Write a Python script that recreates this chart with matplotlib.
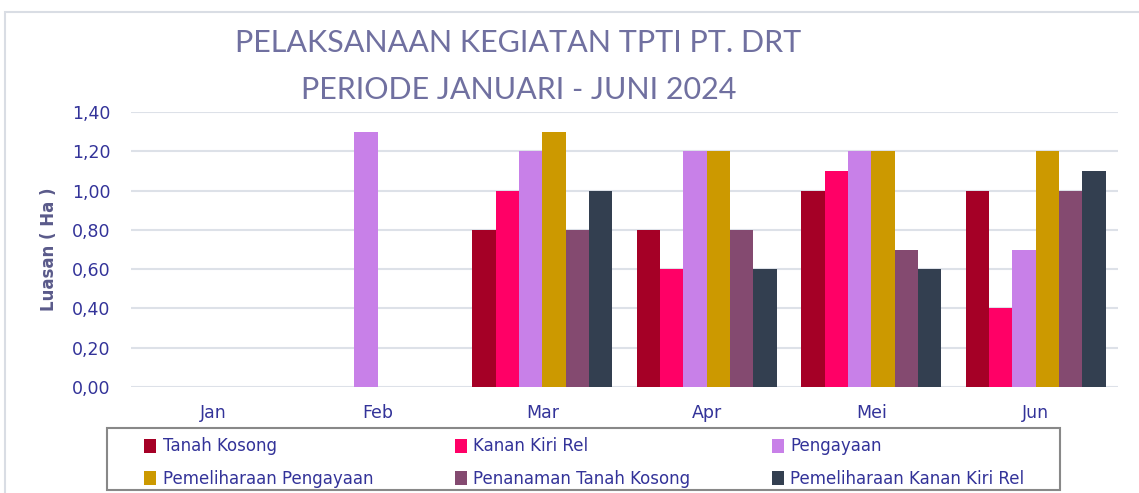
import matplotlib.pyplot as plt
import numpy as np
from matplotlib.patches import Rectangle

months = ["Jan", "Feb", "Mar", "Apr", "Mei", "Jun"]
series = ["Tanah Kosong", "Kanan Kiri Rel", "Pengayaan",
          "Pemeliharaan Pengayaan", "Penanaman Tanah Kosong",
          "Pemeliharaan Kanan Kiri Rel"]
tanah_kosong = [0, 0, 0.8, 0.8, 1.0, 1.0]
kanan_kiri_rel = [0, 0, 1.0, 0.6, 1.1, 0.4]
pengayaan = [0, 1.3, 1.2, 1.2, 1.2, 0.7]
pemeliharaan_pengayaan = [0, 0, 1.3, 1.2, 1.2, 1.2]
penanaman_tanah_kosong = [0, 0, 0.8, 0.8, 0.7, 1.0]
pemeliharaan_kkr = [0, 0, 1.0, 0.6, 0.6, 1.1]
colors = ["#a50026", "#ff0066", "#c880e8", "#cc9900", "#844a70", "#333f50"]

values = [tanah_kosong, kanan_kiri_rel, pengayaan, pemeliharaan_pengayaan,
          penanaman_tanah_kosong, pemeliharaan_kkr]

fig = plt.figure(figsize=(11.39, 4.93), dpi=100)
# outer chart border
fig.patches.append(Rectangle((5/1139, -0.01), 1.0, 0.986, transform=fig.transFigure,
                             fill=False, edgecolor="#d9dde4", linewidth=1.5))

ax = fig.add_axes([131/1139, 1-387/493, (1118-131)/1139, (387-112)/493])
x = np.arange(len(months))
w = 0.85 / 6
handles = []
for i, (name, vals) in enumerate(zip(series, values)):
    h = np.array(vals, dtype=float)
    mask = h > 0
    b = ax.bar(x[mask] + (i - 2.5) * w, h[mask], width=w, color=colors[i],
               label=name, zorder=3)
    handles.append(b)
ax.set_xlim(-0.5, 5.5)
ax.set_ylim(0, 1.4)
ticks = np.arange(0, 1.41, 0.2)
ax.set_yticks(ticks)
ax.set_yticklabels([f"{v:.2f}".replace(".", ",") for v in ticks])
ax.set_xticks(x)
ax.set_xticklabels(months)
ax.tick_params(length=0, labelsize=12.5, colors="#333399", pad=12)
ax.tick_params(axis="y", pad=15)
ax.grid(axis="y", color="#dde1e8", linewidth=1.5, zorder=0)
for s in ax.spines.values():
    s.set_visible(False)
ax.set_ylabel("Luasan ( Ha )", fontsize=12, fontweight="bold", color="#5a5a8a", labelpad=10)

fig.text(0.455, 1-43/493, "PELAKSANAAN KEGIATAN TPTI PT. DRT", ha="center", va="center",
         fontsize=22, color="#7070a0", family="Lato")
fig.text(0.455, 1-90/493, "PERIODE JANUARI - JUNI 2024", ha="center", va="center",
         fontsize=22, color="#7070a0", family="Lato")

# legend frame
fig.patches.append(Rectangle((107/1139, 3/493), (1060-107)/1139, (490-428)/493,
                             transform=fig.transFigure, fill=False,
                             edgecolor="#888888", linewidth=1.5))
# row-major order: matplotlib fills columns first
order = [0, 3, 1, 4, 2, 5]
leg = fig.legend([handles[i] for i in order], [series[i] for i in order],
                 loc="upper left", bbox_to_anchor=(131/1139, 1-424/493),
                 ncol=3, fontsize=12, frameon=False,
                 handlelength=0.7, handleheight=0.9, handletextpad=0.4,
                 columnspacing=4.9, borderpad=0.3, labelspacing=0.85)
for t in leg.get_texts():
    t.set_color("#333399")

fig.savefig("out.png", dpi=100)
